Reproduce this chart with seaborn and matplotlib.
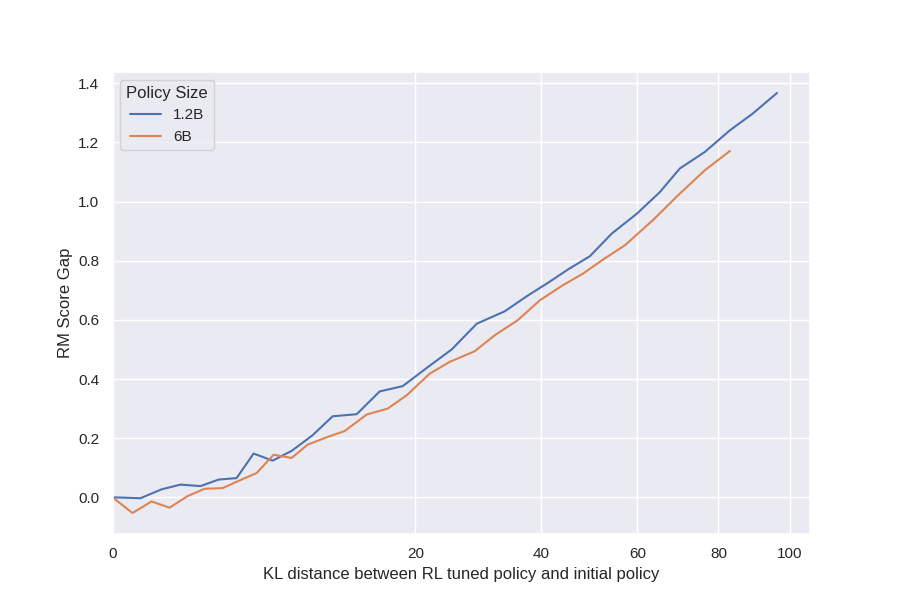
import seaborn as sns
import matplotlib.pyplot as plt
import pandas as pd
import numpy as np

# KL distance / RM score gap
kl_small = [0, 0.171, 0.524, 1.009, 1.69, 2.452, 3.355, 4.338, 5.586, 6.991,
            8.727, 10.56, 12.99, 15.55, 18.35, 21.65, 25.07, 28.91, 33.53, 37.40,
            41.29, 45.17, 49.64, 54.33, 59.91, 65.28, 70.14, 76.47, 83.06, 89.37,
            96.20]
gap_small = [0.0, -0.003, 0.027, 0.043, 0.038, 0.060, 0.065, 0.148, 0.124, 0.157,
             0.210, 0.274, 0.281, 0.358, 0.376, 0.440, 0.500, 0.587, 0.629, 0.680,
             0.725, 0.770, 0.815, 0.892, 0.959, 1.032, 1.112, 1.168, 1.241, 1.298,
             1.367]

kl_big = [0, 0.087, 0.332, 0.709, 1.227, 1.847, 2.640, 3.519, 4.524, 5.656,
          6.991, 8.297, 9.992, 11.74, 14.08, 16.50, 18.86, 21.92, 24.78, 28.59,
          31.84, 35.79, 39.78, 44.18, 48.20, 52.81, 57.20, 63.62, 70.14, 76.47,
          83.06]
gap_big = [0.0, -0.053, -0.014, -0.035, 0.004, 0.029, 0.031, 0.057, 0.082, 0.144,
           0.133, 0.178, 0.203, 0.224, 0.280, 0.300, 0.345, 0.418, 0.458, 0.494,
           0.548, 0.599, 0.666, 0.717, 0.756, 0.808, 0.852, 0.937, 1.027, 1.106,
           1.171]

sizes = ['1.2B', '6B']

df = pd.concat([
    pd.DataFrame({'kl': kl_small, 'gap': gap_small, 'Policy Size': sizes[0]}),
    pd.DataFrame({'kl': kl_big, 'gap': gap_big, 'Policy Size': sizes[1]}),
])

sns.set_theme(style='darkgrid', font='Liberation Sans')
f, ax = plt.subplots(figsize=(9, 6), dpi=100)
sns.lineplot(data=df, x='kl', y='gap', hue='Policy Size', ax=ax)

# sqrt x axis
def fwd(x):
    return np.sign(x) * np.sqrt(np.abs(x))

def inv(x):
    return np.sign(x) * x ** 2

ax.set_xscale('function', functions=(fwd, inv))
ax.set_xlim(0, 106)
ax.set_xticks([0, 20, 40, 60, 80, 100])
ax.set_xlabel('KL distance between RL tuned policy and initial policy')
ax.set_ylabel('RM Score Gap')
ax.legend(title='Policy Size', loc='upper left')
plt.savefig('out.png')
